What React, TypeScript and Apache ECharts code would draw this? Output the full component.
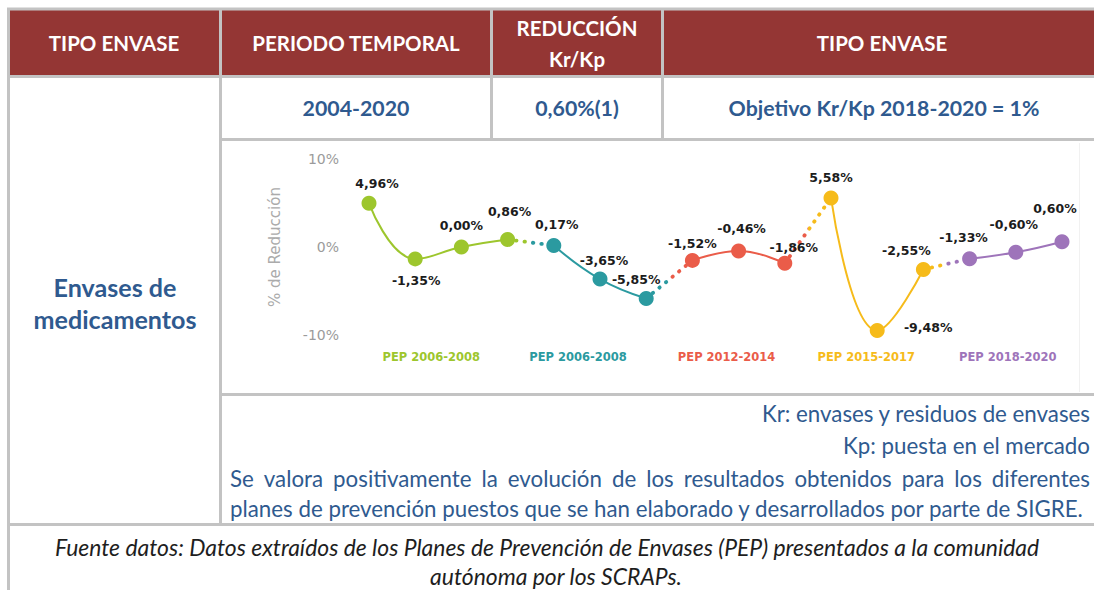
import React, { useEffect, useRef } from 'react';
import * as echarts from 'echarts';

// ---------- data ----------
const pointIds = ['1', '2', '3', '4', '5', '6', '7', '8', '9', '10', '11', '12', '13', '14', '15', '16'];
const reductionValues = [4.96, -1.35, 0.0, 0.86, 0.17, -3.65, -5.85, -1.52, -0.46, -1.86, 5.58, -9.48, -2.55, -1.33, -0.6, 0.6];
const planNames = ['PEP 2006-2008', 'PEP 2006-2008', 'PEP 2012-2014', 'PEP 2015-2017', 'PEP 2018-2020'];
const planStart = [0, 4, 7, 10, 13];
const planEnd = [3, 6, 9, 12, 15];
const yMin = -10;
const yMax = 10;
const yStep = 10;

const headerLabels = ['TIPO ENVASE', 'PERIODO TEMPORAL', 'REDUCCIÓN', 'Kr/Kp', 'TIPO ENVASE'];
const rowValues = ['2004-2020', '0,60%(1)', 'Objetivo Kr/Kp 2018-2020 = 1%'];
const rowTitle = ['Envases de', 'medicamentos'];
const noteLines = ['Kr: envases y residuos de envases', 'Kp: puesta en el mercado'];
const commentLines = [
  'Se valora positivamente la evolución de los resultados obtenidos para los diferentes',
  'planes de prevención puestos que se han elaborado y desarrollados por parte de SIGRE.',
];
const sourceLines = [
  'Fuente datos: Datos extraídos de los Planes de Prevención de Envases (PEP) presentados a la comunidad',
  'autónoma por los SCRAPs.',
];

// ---------- styles ----------
const planColors = ['#9DC62D', '#2B9AA0', '#EA5C49', '#F6BB1A', '#9E74BA'];
const labelOffsets: [number, number][] = [
  [8, -20], [1, 22], [0, -22], [2, -28], [3, -21], [4, -19], [-10, -19], [0, -17],
  [3, -23], [9, -16], [0, -20], [51, -3], [-17, -19], [-6, -21], [-2, -28], [-7, -33],
];
const planLabelShift = [-7, -22, -12, -11, -8];
const TABLE_FONT = 'Lato';
const CHART_FONT = '"DejaVu Sans"';
const RED = '#943634';
const BLUE = '#2F5A8F';
const BORDER = '#C3C3C3';

export default function App() {
  const ref = useRef<HTMLDivElement>(null);

  useEffect(() => {
    const chart = echarts.init(ref.current!, null, { renderer: 'svg' });
    const canvas = document.createElement('canvas');
    const ctx = canvas.getContext('2d')!;
    const measure = (text: string, font: string) => {
      ctx.font = font;
      return ctx.measureText(text).width;
    };
    const fit = (text: string, weight: string, style: string, target: number) =>
      (100 * target) / measure(text, `${style} ${weight} 100px ${TABLE_FONT}`);

    const fmt = (v: number) => v.toFixed(2).replace('.', ',') + '%';

    const series: any[] = [];
    planStart.forEach((s, i) => {
      const e = planEnd[i];
      series.push({
        type: 'line',
        name: planNames[i],
        data: reductionValues.map((v, k) =>
          k >= s && k <= e ? { value: v, label: { offset: labelOffsets[k] } } : '-'
        ),
        smooth: 0.45,
        symbol: 'circle',
        symbolSize: 15,
        itemStyle: { color: planColors[i] },
        lineStyle: { color: planColors[i], width: 2 },
        label: {
          show: true,
          position: 'inside',
          formatter: (p: any) => fmt(p.value),
          color: '#1c1c1c',
          fontWeight: 'bold',
          fontSize: 12.5,
          fontFamily: CHART_FONT,
        },
        z: 4,
      });
    });
    for (let i = 0; i < planStart.length - 1; i++) {
      const a = planEnd[i];
      const b = planStart[i + 1];
      const c1 = planColors[i];
      const c2 = planColors[i + 1];
      series.push({
        type: 'line',
        data: reductionValues.map((v, k) => (k === a || k === b ? v : '-')),
        symbol: 'none',
        silent: true,
        z: 3,
        lineStyle: {
          width: 3.8,
          cap: 'round',
          type: [0.5, 8],
          color: new echarts.graphic.LinearGradient(0, 0, 1, 0, [
            { offset: 0, color: c1 },
            { offset: 0.5, color: c1 },
            { offset: 0.5, color: c2 },
            { offset: 1, color: c2 },
          ]),
        },
      });
    }

    const option: any = {
      animation: false,
      backgroundColor: '#ffffff',
      grid: { left: 369, right: 32, top: 159, bottom: 255 },
      xAxis: {
        type: 'category',
        data: pointIds,
        boundaryGap: false,
        axisLine: { show: false },
        axisTick: { show: false },
        axisLabel: { show: false },
        splitLine: { show: false },
      },
      yAxis: {
        type: 'value',
        min: yMin,
        max: yMax,
        interval: yStep,
        axisLine: { show: false },
        axisTick: { show: false },
        splitLine: { show: false },
        axisLabel: {
          formatter: '{value}%',
          color: '#9b9b9b',
          fontSize: 14,
          fontFamily: CHART_FONT,
          margin: 30,
        },
        name: '% de Reducción',
        nameLocation: 'middle',
        nameRotate: 90,
        nameGap: 87,
        nameTextStyle: { color: '#ababab', fontSize: 15, fontFamily: CHART_FONT },
      },
      series,
    };
    chart.setOption(option);

    // ---------- table graphics ----------
    const g: any[] = [];
    const line = (x1: number, y1: number, x2: number, y2: number) =>
      g.push({ type: 'line', shape: { x1, y1, x2, y2 }, style: { stroke: BORDER, lineWidth: 3 }, silent: true });
    const text = (t: string, x: number, y: number, font: string, fill: string, align = 'center') =>
      g.push({
        type: 'text',
        x,
        y,
        silent: true,
        style: {
          text: t,
          font,
          fill,
          textAlign: align,
          textVerticalAlign: 'middle',
          align,
          verticalAlign: 'middle',
        },
      });

    // header fill
    g.push({ type: 'rect', shape: { x: 10, y: 10, width: 1100, height: 66 }, style: { fill: RED }, silent: true });
    // horizontal borders
    line(7, 9, 1110, 9);
    line(7, 76.5, 1110, 76.5);
    line(219, 139.5, 1110, 139.5);
    line(219, 394.5, 1110, 394.5);
    line(7, 524.5, 1110, 524.5);
    // vertical borders
    line(8.5, 8, 8.5, 590);
    line(220.5, 8, 220.5, 526);
    line(491.5, 8, 491.5, 141);
    line(662.5, 8, 662.5, 141);
    // faint chart picture edge
    g.push({ type: 'line', shape: { x1: 1079.5, y1: 143, x2: 1079.5, y2: 392 }, style: { stroke: '#f1f1f1', lineWidth: 1 }, silent: true });

    // header texts
    const hs = fit(headerLabels[1], 'bold', 'normal', 208);
    const hFont = `bold ${hs}px ${TABLE_FONT}`;
    text(headerLabels[0], 114, 43, hFont, '#ffffff');
    text(headerLabels[1], 356, 43, hFont, '#ffffff');
    text(headerLabels[2], 577, 28, hFont, '#ffffff');
    text(headerLabels[3], 577, 59, hFont, '#ffffff');
    text(headerLabels[4], 882, 43, hFont, '#ffffff');

    // row 2
    const rs = fit(rowValues[2], 'bold', 'normal', 311);
    const rFont = `bold ${rs}px ${TABLE_FONT}`;
    text(rowValues[0], 356, 108, rFont, BLUE);
    text(rowValues[1], 577, 108, rFont, BLUE);
    text(rowValues[2], 884, 108, rFont, BLUE);

    // row title
    const ts = fit(rowTitle[1], 'bold', 'normal', 163);
    const tFont = `bold ${ts}px ${TABLE_FONT}`;
    text(rowTitle[0], 115, 287, tFont, BLUE);
    text(rowTitle[1], 115, 319, tFont, BLUE);

    // notes (right aligned)
    const ns = fit(commentLines[1], 'normal', 'normal', 855);
    const nFont = `normal ${ns}px ${TABLE_FONT}`;
    text(noteLines[0], 1090, 413, nFont, BLUE, 'right');
    text(noteLines[1], 1090, 445, nFont, BLUE, 'right');
    // justified first comment line
    const words = commentLines[0].split(' ');
    const widths = words.map((w) => measure(w, nFont));
    const total = widths.reduce((a, b) => a + b, 0);
    const gap = (1090 - 230 - total) / (words.length - 1);
    let cx = 230;
    words.forEach((w, i) => {
      text(w, cx, 478, nFont, BLUE, 'left');
      cx += widths[i] + gap;
    });
    text(commentLines[1], 230, 508, nFont, BLUE, 'left');

    // source
    const ss = fit(sourceLines[0], 'normal', 'italic', 985);
    const sFont = `italic normal ${ss}px ${TABLE_FONT}`;
    text(sourceLines[0], 547, 547, sFont, '#1e1e1e');
    text(sourceLines[1], 556, 576, sFont, '#1e1e1e');

    // plan labels under the chart
    const baseY = (chart.convertToPixel({ yAxisIndex: 0 }, yMin) as number) + 22;
    planStart.forEach((s, i) => {
      const x1 = chart.convertToPixel({ xAxisIndex: 0 }, pointIds[s]) as number;
      const x2 = chart.convertToPixel({ xAxisIndex: 0 }, pointIds[planEnd[i]]) as number;
      text(planNames[i], (x1 + x2) / 2 + planLabelShift[i], baseY, `bold 11.5px ${CHART_FONT}`, planColors[i]);
    });

    chart.setOption({ graphic: { elements: g } });

    return () => chart.dispose();
  }, []);

  return <div ref={ref} style={{ position: 'absolute', left: 0, top: 0, width: 1094, height: 590 }} />;
}
